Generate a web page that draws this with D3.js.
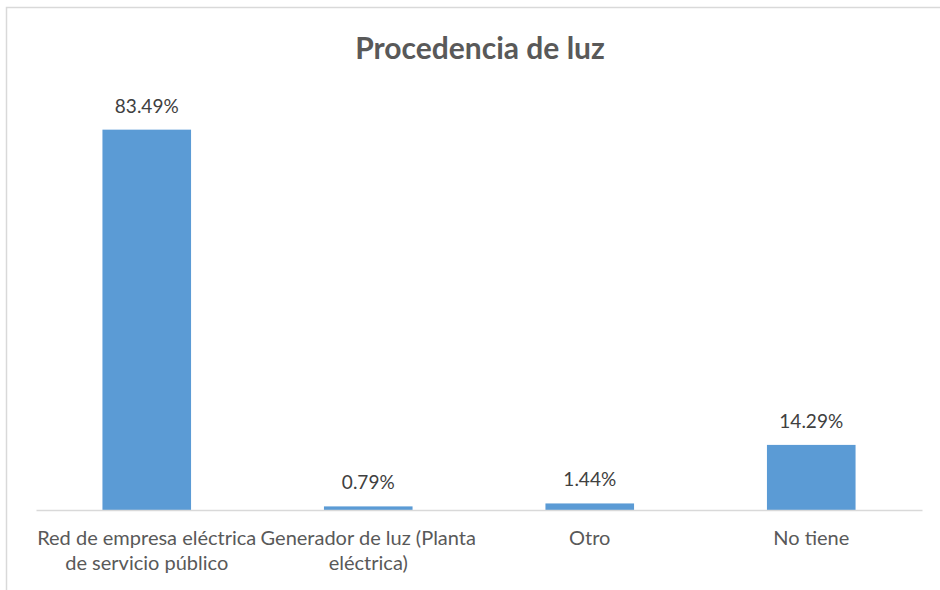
<!DOCTYPE html>
<html>
<head>
<meta charset="utf-8">
<script src="https://cdn.jsdelivr.net/npm/d3@7"></script>
<style>
  body { margin: 0; background: #fff; }
  svg { display: block; }
</style>
</head>
<body>
<script>
// data
const title = "Procedencia de luz";
const categories = [
    "Red de empresa eléctrica\nde servicio público",
    "Generador de luz (Planta\neléctrica)",
    "Otro",
    "No tiene"
];
const values = [0.8349, 0.0079, 0.0144, 0.1429];

const W = 940, H = 590;
const font = "Lato, 'Open Sans', sans-serif";
const textColor = "#595959";

const svg = d3.select("body").append("svg")
    .attr("width", W)
    .attr("height", H);

// chart frame (only top/left visible in the crop)
svg.append("rect")
    .attr("x", 6.5).attr("y", 7.5)
    .attr("width", W + 10).attr("height", H + 10)
    .attr("fill", "none")
    .attr("stroke", "#d9d9d9")
    .attr("stroke-width", 1.5);

const plotLeft = 36, plotRight = 922, base = 510, plotTop = 100;

const x = d3.scaleBand()
    .domain(categories)
    .range([plotLeft, plotRight])
    .paddingInner(0.6)
    .paddingOuter(0.3);

const y = d3.scaleLinear()
    .domain([0, 0.9])
    .range([base, plotTop]);

svg.append("text")
    .attr("id", "title")
    .attr("x", 480).attr("y", 59)
    .attr("text-anchor", "middle")
    .attr("font-family", font)
    .attr("font-weight", "bold")
    .attr("font-size", "30px")
    .attr("fill", textColor)
    .text(title);

svg.selectAll("rect.bar")
    .data(values)
    .enter()
    .append("rect")
    .attr("class", "bar")
    .attr("x", (d, i) => x(categories[i]))
    .attr("y", d => y(d))
    .attr("width", x.bandwidth())
    .attr("height", d => base - y(d))
    .attr("fill", "#5b9bd5");

// axis line
const axis = svg.append("g")
    .attr("transform", "translate(0," + base + ")")
    .call(d3.axisBottom(x).tickSize(0).tickFormat(""));
axis.select(".domain").attr("stroke", "#d9d9d9").attr("stroke-width", 1.5);

svg.selectAll("text.val")
    .data(values)
    .enter()
    .append("text")
    .attr("class", "val")
    .attr("x", (d, i) => x(categories[i]) + x.bandwidth() / 2)
    .attr("y", d => y(d) - 17)
    .attr("text-anchor", "middle")
    .attr("font-family", font)
    .attr("font-size", "19px")
    .attr("fill", "#404040")
    .text(d => (d * 100).toFixed(2) + "%");

const lbl = svg.selectAll("text.cat")
    .data(categories)
    .enter()
    .append("text")
    .attr("class", "cat")
    .attr("x", d => x(d) + x.bandwidth() / 2)
    .attr("y", 545)
    .attr("text-anchor", "middle")
    .attr("font-family", font)
    .attr("font-size", "20px")
    .attr("fill", textColor);
lbl.selectAll("tspan")
    .data(d => d.split("\n"))
    .enter()
    .append("tspan")
    .attr("x", function () { return this.parentNode.getAttribute("x"); })
    .attr("dy", (d, i) => i ? 25 : 0)
    .text(d => d);
</script>
</body>
</html>
